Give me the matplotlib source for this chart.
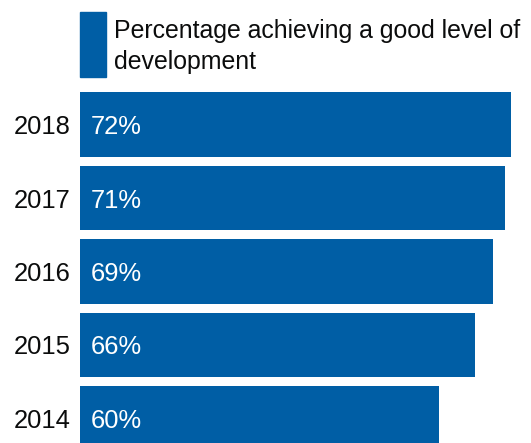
import matplotlib
matplotlib.use("Agg")
import matplotlib.pyplot as plt
from matplotlib.patches import Rectangle

# Datos de la serie
years = ["2018", "2017", "2016", "2015", "2014"]
values = [72, 71, 69, 66, 60]
series_label = "Percentage achieving a good level of\ndevelopment"

plt.rcParams["font.family"] = ["Liberation Sans", "DejaVu Sans"]
blue = "#005ea5"
ink = "#0b0c0c"
fs = 18.4

W, H = 531, 443
fig = plt.figure(figsize=(W / 100, H / 100), dpi=100)
# eje: empieza en x=80 px y ocupa todo el alto
ax = fig.add_axes([80 / W, 0, 1 - 80 / W, 1])

pos = list(range(len(years)))
ax.barh(pos, values, height=0.884, color=blue, label=series_label)

px_per_unit = 5.99
ax.set_xlim(0, (W - 80) / px_per_unit)
ax.set_ylim(4 + 24.5 / 73.5, -124.5 / 73.5)

ax.set_yticks(pos)
ax.set_yticklabels(years, fontsize=fs, color=ink)
ax.tick_params(axis="y", length=0, pad=6.7)
ax.set_xticks([])
for s in ax.spines.values():
    s.set_visible(False)

# etiquetas de valor dentro de cada barra
for i, v in enumerate(values):
    ax.annotate(f"{v}%", (0, i), xytext=(8, 0), textcoords="offset points",
                color="white", fontsize=fs, va="center_baseline", ha="left")

# leyenda arriba: cuadro azul + texto en dos lineas (coordenadas en pixeles)
fig.patches.append(Rectangle((80 / W, 1 - 77 / H), 25.7 / W, 65 / H,
                             transform=fig.transFigure, color=blue))
# va="baseline" toma la base de la ultima linea
fig.text(114 / W, 1 - 69.3 / H, series_label, fontsize=17.9, color=ink,
         va="baseline", ha="left", linespacing=1.36)

fig.savefig("out.png", dpi=100)
